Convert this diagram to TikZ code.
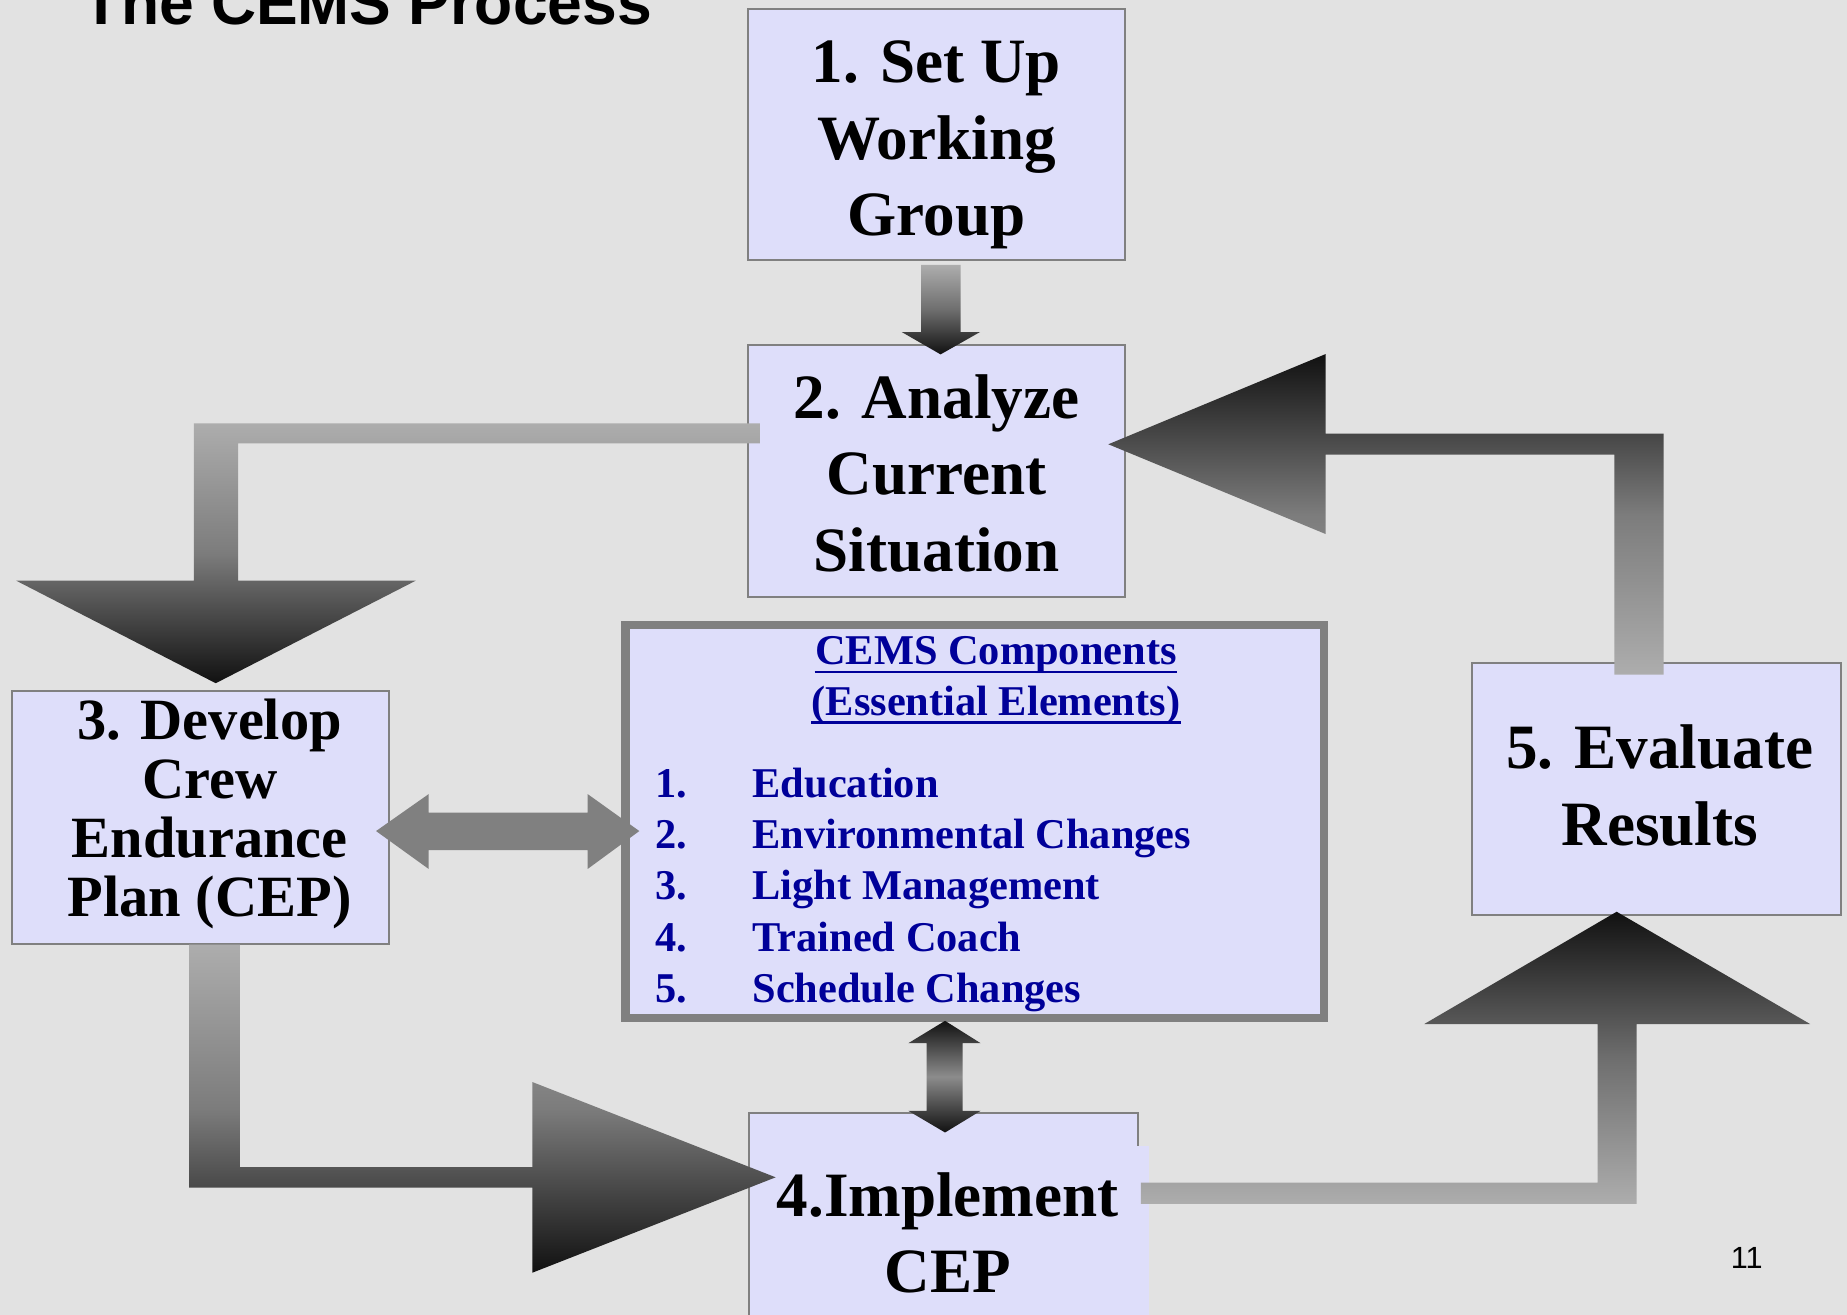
\documentclass[tikz,border=0pt]{standalone}
\usepackage{fontspec}
\setmainfont{Liberation Serif}
\newfontfamily\arialfont{Liberation Sans}
\usetikzlibrary{calc}
\definecolor{bgcol}{RGB}{226,226,226}
\definecolor{boxfill}{RGB}{222,222,250}
\definecolor{boxline}{RGB}{128,128,128}
\definecolor{navy}{RGB}{0,0,153}
\definecolor{dk}{RGB}{17,17,17}
\definecolor{lt}{RGB}{173,173,173}
\definecolor{midA}{RGB}{110,110,110}
\definecolor{midB}{RGB}{124,124,124}
\definecolor{midC}{RGB}{140,140,140}
\definecolor{arrgray}{RGB}{128,128,128}
\newcommand\bxfont{\fontsize{26.8}{32.5}\selectfont\bfseries}
\newcommand\crfont{\fontsize{24.8}{25}\selectfont\bfseries}
\newcommand\cmfont{\fontsize{18}{21.75}\selectfont\bfseries}
\tikzset{
  procbox/.style={draw=boxline, line width=0.85pt, fill=boxfill, rectangle, inner sep=0pt},
  cemsbox/.style={draw=boxline, line width=3.5pt, fill=boxfill, rectangle, inner sep=0pt},
  btext/.style={anchor=base, inner sep=0pt, font=\bxfont},
  ctext/.style={anchor=base, inner sep=0pt, font=\cmfont, text=navy},
  ulinestyle/.style={draw=navy, line width=1.1pt},
  downshade/.style={top color=lt, bottom color=dk},
  upshade/.style={top color=dk, bottom color=lt},
}
\begin{document}
\begin{tikzpicture}[x=0.5pt,y=-0.5pt]
\useasboundingbox (0,0) rectangle (1568,1116);
\clip (0,0) rectangle (1568,1116);
\fill[bgcol] (0,0) rectangle (1568,1116);

% boxes
\node[procbox, minimum width=160pt, minimum height=106.5pt] (b1) at (795,114.5) {};
\node[procbox, minimum width=160pt, minimum height=107pt] (b2) at (795,400) {};
\node[procbox, minimum width=160pt, minimum height=107pt] (b3) at (170.5,694) {};
\node[procbox, minimum width=156.5pt, minimum height=106.75pt] (b5) at (1406.5,669.75) {};
\node[cemsbox, minimum width=296.5pt, minimum height=167pt] (cems) at (827.5,697.5) {};
\node[procbox, minimum width=165.25pt, minimum height=92.75pt] (b4) at (800.75,1037.25) {};
\fill[boxfill] (636.5,973) rectangle (975,1130);

% connectors (block arrows)
\shade[top color=lt, bottom color=dk, middle color=midA]
  ($(b1.south)+(-13,3)$) -- ++(33.6,0) -- ++(0,57) -- ++(16.4,0) -- ++(-33.5,19)
  -- ++(-33,-19) -- ++(16.5,0) -- cycle;
\shade[top color=lt, bottom color=dk, middle color=midB]
  ($(b2.west)+(11,-40.6)$) -- ++(0,17) -- ++(-443,0) -- ++(0,116.6) -- ++(150.7,0)
  -- ++(-169.7,87) -- ++(-169.3,-87) -- ++(150.8,0) -- ++(0,-133.6) -- cycle;
\shade[top color=dk, bottom color=lt, middle color=midB]
  ($(b5.north)+(-36.1,10.5)$) -- ++(0,-186.7) -- ++(-245,0) -- ++(0,67.4)
  -- ++(-184.5,-76.2) -- ++(184.5,-76.6) -- ++(0,67.6) -- ++(286.8,0) -- ++(0,204.5) -- cycle;
\shade[top color=lt, bottom color=dk, middle color=midB]
  ($(b3.south)+(-10,0)$) -- ++(43.2,0) -- ++(0,188.9) -- ++(248.2,0) -- ++(0,-72.2)
  -- ++(206.6,80.9) -- ++(-206.6,81) -- ++(0,-72.2) -- ++(-291.4,0) -- cycle;
\shade[top color=dk, bottom color=lt, middle color=midA]
  ($(b4.east)+(1.6,-33.25)$) -- ++(387.9,0) -- ++(0,-134.7) -- ++(-147.2,0)
  -- ++(163.3,-95.3) -- ++(164.2,95.3) -- ++(-147.2,0) -- ++(0,152.8) -- ++(-421,0) -- cycle;
\fill[arrgray]
  ($(b3.east)+(-12.1,11.5)$) -- ++(44.7,-31.4) -- ++(0,15.8) -- ++(134.9,0) -- ++(0,-15.8)
  -- ++(43.9,31.4) -- ++(-43.9,32.2) -- ++(0,-16.1) -- ++(-134.9,0) -- ++(0,16.1) -- cycle;
\shade[top color=dk, bottom color=dk, middle color=midC]
  ($(cems.south)+(-25.2,-1.4)$) -- ++(30.2,19) -- ++(-15.2,0) -- ++(0,57.4) -- ++(15.2,0)
  -- ++(-30.2,18.4) -- ++(-31.2,-18.4) -- ++(15.6,0) -- ++(0,-57.4) -- ++(-15.6,0) -- cycle;

% texts
\node[anchor=base west, inner sep=0pt, font={\arialfont\bfseries\fontsize{26.5}{30}\selectfont}] (title) at (70,21) {The CEMS Process};
\node[btext] (t1) at (795,70) {\begin{tabular}[t]{@{}c@{}}1. Set Up\\Working\\Group\end{tabular}};
\node[btext] (t2) at (795,355) {\begin{tabular}[t]{@{}c@{}}2. Analyze\\Current\\Situation\end{tabular}};
\node[anchor=base, inner sep=0pt, font=\crfont] (t3) at (178,628) {\begin{tabular}[t]{@{}c@{}}3. Develop\\Crew\\Endurance\\Plan (CEP)\end{tabular}};
\node[btext] (t5) at (1409,652.5) {\begin{tabular}[t]{@{}c@{}}5. Evaluate\\Results\end{tabular}};
\node[btext] (t4) at (804.5,1032.5) {\begin{tabular}[t]{@{}c@{}}4.Implement\\CEP\end{tabular}};

\node[ctext] (h1) at (845.5,564.5) {CEMS Components};
\node[ctext] (h2) at (845.5,607) {(Essential Elements)};
\draw[ulinestyle] ([yshift=-3pt]h1.base west) -- ([yshift=-3pt]h1.base east);
\draw[ulinestyle] ([yshift=-3.2pt]h2.base west) -- ([yshift=-3.2pt]h2.base east);
\node[anchor=base west, inner sep=0pt, font=\cmfont, text=navy] (list) at (556,677)
  {\begin{tabular}[t]{@{}l@{}}
   \makebox[41.25pt][l]{1.}Education\\
   \makebox[41.25pt][l]{2.}Environmental Changes\\
   \makebox[41.25pt][l]{3.}Light Management\\
   \makebox[41.25pt][l]{4.}Trained Coach\\
   \makebox[41.25pt][l]{5.}Schedule Changes
   \end{tabular}};

\node[anchor=base west, inner sep=0pt, font={\arialfont\fontsize{13}{15}\selectfont}] (pg) at (1469,1077) {11};
\end{tikzpicture}
\end{document}
